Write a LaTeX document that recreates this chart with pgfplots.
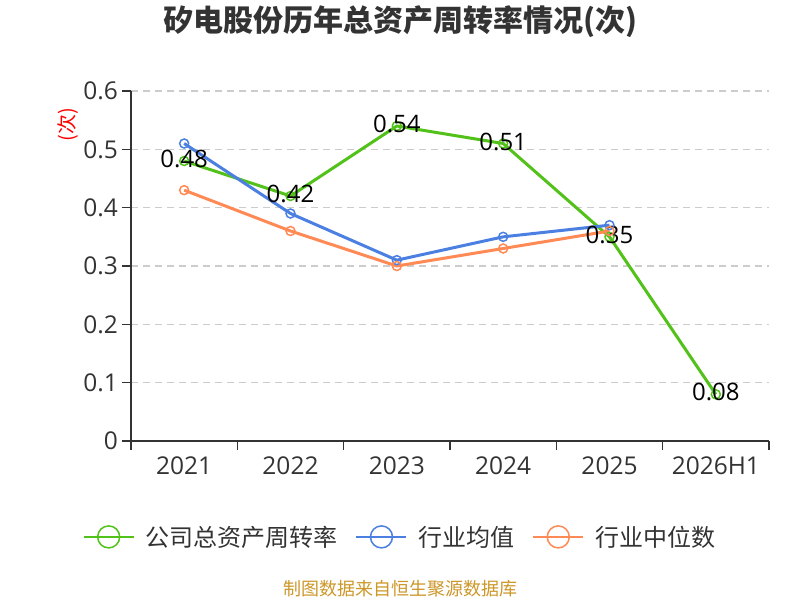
\documentclass[border=0pt]{standalone}
\usepackage{pgfplots}
\pgfplotsset{compat=1.18}
\usepackage{fontspec}
\setmainfont{Open Sans}
\newfontfamily\cjk{Noto Sans CJK SC}
\definecolor{cgreen}{RGB}{82,194,26}
\definecolor{cblue}{RGB}{75,128,226}
\definecolor{corange}{RGB}{255,138,85}
\definecolor{ctext}{RGB}{51,51,51}
\definecolor{cgrid}{RGB}{204,204,204}
\definecolor{csrc}{RGB}{204,150,40}
\begin{document}
\begin{tikzpicture}
\path[use as bounding box] (0,0) rectangle (800pt,600pt);
\node[text=ctext,font={\cjk\bfseries\fontsize{30}{35}\selectfont}] at (400pt,578pt) {矽电股份历年总资产周转率情况(次)};
\node[text=csrc,font={\cjk\fontsize{18}{20}\selectfont}] at (400pt,11pt) {制图数据来自恒生聚源数据库};
\begin{axis}[
  at={(131pt,159pt)}, anchor=south west,
  scale only axis, width=638pt, height=350pt,
  xmin=-0.5, xmax=5.5, ymin=0, ymax=0.6,
  axis lines=left, axis line style={-, line width=1.5pt, ctext},
  xtick={-0.5,0.5,...,5.5},
  xticklabels={},
  extra x ticks={0,...,5},
  extra x tick labels={2021,2022,2023,2024,2025,2026H1},
  extra x tick style={major tick length=0pt},
  ytick={0,0.1,...,0.6},
  yticklabels={0,0.1,0.2,0.3,0.4,0.5,0.6},
  tick align=outside,
  major tick length=8.5pt,
  tick style={line width=1.5pt, ctext},
  ymajorgrids, grid style={cgrid, line width=1.2pt, dash pattern=on 7pt off 5pt},
  ticklabel style={text=ctext, font=\fontsize{24.5}{28}\selectfont},
  xticklabel style={yshift=-12pt},
  yticklabel style={xshift=-1pt},
  /pgf/number format/assume math mode=true,
  legend columns=3,
  legend style={at={(axis description cs:0.4216,-0.274)}, anchor=center, draw=none, fill=none,
    font={\cjk\fontsize{24}{28}\selectfont}, text=ctext,
    /tikz/every odd column/.append style={column sep=9pt},
    /tikz/every even column/.append style={column sep=16pt}},
  legend image code/.code={\draw[mark repeat=2, mark phase=2, mark size=11pt, line width=1.8pt] plot coordinates {(0pt,0pt) (25pt,0pt) (50pt,0pt)};},
  clip=false,
]
\addplot[cgreen, line width=3pt, mark=o, mark size=4.5pt, mark options={line width=1.5pt, fill=white},
  nodes near coords, point meta=explicit,
  nodes near coords style={anchor=center, yshift=2pt, text=black, font=\fontsize{24}{28}\selectfont,
    /pgf/number format/.cd, fixed, precision=2, fixed zerofill}]
  coordinates {(0,0.48)[0.48] (1,0.42)[0.42] (2,0.54)[0.54] (3,0.51)[0.51] (4,0.35)[0.35] (5,0.08)[0.08]};
\addlegendentry{公司总资产周转率}
\addplot[cblue, line width=3pt, mark=o, mark size=4.5pt, mark options={line width=1.5pt, fill=white}]
  coordinates {(0,0.51) (1,0.39) (2,0.31) (3,0.35) (4,0.37)};
\addlegendentry{行业均值}
\addplot[corange, line width=3pt, mark=o, mark size=4.5pt, mark options={line width=1.5pt, fill=white}]
  coordinates {(0,0.43) (1,0.36) (2,0.30) (3,0.33) (4,0.36)};
\addlegendentry{行业中位数}
\node[rotate=90, text=red, font={\cjk\fontsize{20}{22}\selectfont}] at (rel axis cs:-0.0987,0.903) {(次)};
\end{axis}
\end{tikzpicture}
\end{document}
